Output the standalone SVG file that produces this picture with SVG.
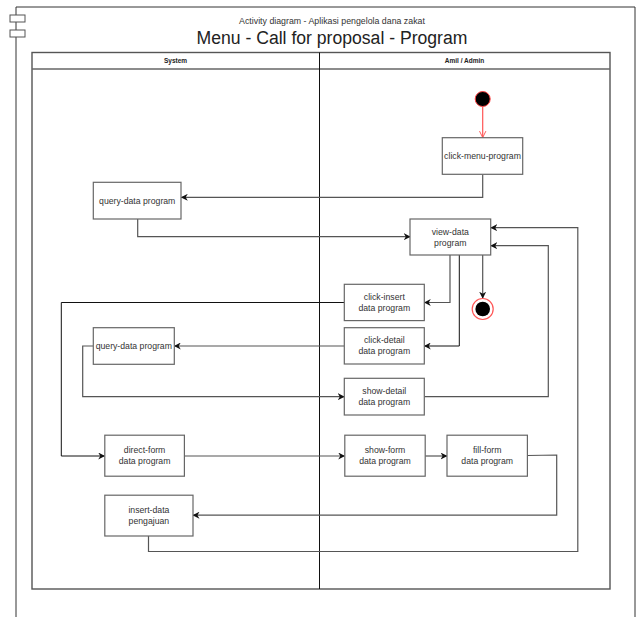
<svg xmlns="http://www.w3.org/2000/svg" width="640" height="617" viewBox="0 0 640 617">
  <style>
    .frame { fill: none; stroke: #333; stroke-width: 1; }
    .pool { fill: #fff; stroke: #555; stroke-width: 1.4; }
    .lane { fill: none; stroke: #111; stroke-width: 1; }
    .box { fill: #fff; stroke: #666; stroke-width: 1.2; }
    .lbl { font-family: "Liberation Sans", Arial, sans-serif; font-size: 8.7px; fill: #333; text-anchor: middle; }
    .hdr { font-family: "Liberation Sans", Arial, sans-serif; font-size: 6.5px; font-weight: bold; fill: #222; text-anchor: middle; }
    .edge { fill: none; stroke: #555; stroke-width: 1.2; marker-end: url(#arrow); }
    .edge.dark { stroke: #111; stroke-width: 1; }
  </style>
  <defs>
    <marker id="arrow" viewBox="0 0 10 10" refX="9" refY="5" markerWidth="7" markerHeight="7" markerUnits="userSpaceOnUse" orient="auto">
      <path d="M0,0 L10,5 L0,10 L3,5 Z" fill="#111"/>
    </marker>
    <marker id="openArrow" viewBox="0 0 10 10" refX="9" refY="5" markerWidth="8" markerHeight="8" markerUnits="userSpaceOnUse" orient="auto">
      <path d="M1,1 L9,5 L1,9" fill="none" stroke="#ff5555" stroke-width="1.2"/>
    </marker>
  </defs>

  <rect width="640" height="617" fill="#fff"/>

  <!-- outer component frame -->
  <g id="frame">
    <path class="frame" d="M16,640 L16,7 L635,7 L635,640"/>
    <rect x="10" y="15" width="15" height="7" fill="#fff" stroke="#555" stroke-width="1"/>
    <rect x="10" y="30" width="15" height="7" fill="#fff" stroke="#555" stroke-width="1"/>
  </g>

  <g id="titles">
    <text x="332" y="23.5" font-family="'Liberation Sans', Arial, sans-serif" font-size="8.8" fill="#333" text-anchor="middle">Activity diagram - Aplikasi pengelola dana zakat</text>
    <text x="332" y="44" font-family="'Liberation Sans', Arial, sans-serif" font-size="17.6" fill="#222" text-anchor="middle">Menu - Call for proposal - Program</text>
  </g>

  <!-- swimlane pool -->
  <g id="pool">
    <rect class="pool" x="32" y="52.5" width="578" height="536.5"/>
    <line x1="32" y1="69" x2="610" y2="69" stroke="#666" stroke-width="1.4"/>
    <line class="lane" x1="319.5" y1="52.5" x2="319.5" y2="589"/>
    <text class="hdr" x="175.5" y="63">System</text>
    <text class="hdr" x="464.5" y="63">Amil / Admin</text>
  </g>

  <!-- connectors -->
  <g id="connectors">
    <path d="M482.7,107 L482.7,137.5" fill="none" stroke="#ff5555" stroke-width="1.2" marker-end="url(#openArrow)"/>
    <path class="edge" d="M482.7,174.5 L482.7,197.3 L181.5,197.3"/>
    <path class="edge" d="M137.7,219 L137.7,236.7 L410,236.7"/>
    <path class="edge" d="M450,255 L450,302.5 L424.5,302.5"/>
    <path class="edge dark" d="M459.3,255 L459.3,346 L424.5,346"/>
    <path class="edge" d="M482.7,255 L482.7,298"/>
    <path class="edge dark" d="M344.3,302.5 L61.3,302.5 L61.3,456 L104.5,456"/>
    <path class="edge" d="M344.3,346 L174.5,346"/>
    <path class="edge" d="M93.3,346 L82.7,346 L82.7,396.7 L344,396.7"/>
    <path class="edge" d="M424.5,396.7 L548.3,396.7 L548.3,245.7 L491,245.7"/>
    <path class="edge" d="M184.5,456 L344.5,456"/>
    <path class="edge" d="M425.2,456 L446.8,456"/>
    <path class="edge" d="M527.4,455.5 L556.7,455 L556.7,515.2 L193.2,515.2"/>
    <path class="edge" d="M148.5,536 L148.5,551.5 L577.8,551.5 L577.8,227.7 L491,227.7"/>
  </g>

  <!-- nodes -->
  <g id="start">
    <circle cx="482.7" cy="99" r="7.5" fill="#000" stroke="#ff4444" stroke-width="1"/>
  </g>

  <g id="click-menu-program">
    <rect class="box" x="442.3" y="137.7" width="80.4" height="36.6"/>
    <text class="lbl" x="482.5" y="159">click-menu-program</text>
  </g>

  <g id="query-data-program-1">
    <rect class="box" x="93.3" y="182.3" width="87.7" height="36.7"/>
    <text class="lbl" x="137.2" y="203.7">query-data program</text>
  </g>

  <g id="view-data-program">
    <rect class="box" x="410" y="219" width="80.7" height="36"/>
    <text class="lbl" x="450.3" y="235">view-data</text>
    <text class="lbl" x="450.3" y="245.6">program</text>
  </g>

  <g id="end">
    <circle cx="482.7" cy="309" r="10.5" fill="#fff" stroke="#ff5555" stroke-width="1.2"/>
    <circle cx="482.7" cy="309" r="7.3" fill="#000"/>
  </g>

  <g id="click-insert-data-program">
    <rect class="box" x="344.3" y="284.3" width="80" height="36.3"/>
    <text class="lbl" x="384.3" y="300">click-insert</text>
    <text class="lbl" x="384.3" y="310.7">data program</text>
  </g>

  <g id="click-detail-data-program">
    <rect class="box" x="344.3" y="327.7" width="80" height="36.3"/>
    <text class="lbl" x="384.3" y="343.4">click-detail</text>
    <text class="lbl" x="384.3" y="354.1">data program</text>
  </g>

  <g id="query-data-program-2">
    <rect class="box" x="93.3" y="327.7" width="81" height="36.6"/>
    <text class="lbl" x="133.8" y="349">query-data program</text>
  </g>

  <g id="show-detail-data-program">
    <rect class="box" x="344.3" y="378.3" width="80" height="36.7"/>
    <text class="lbl" x="384.3" y="394.2">show-detail</text>
    <text class="lbl" x="384.3" y="404.9">data program</text>
  </g>

  <g id="direct-form-data-program">
    <rect class="box" x="104.8" y="435.2" width="79.6" height="41"/>
    <text class="lbl" x="144.6" y="453.2">direct-form</text>
    <text class="lbl" x="144.6" y="463.9">data program</text>
  </g>

  <g id="show-form-data-program">
    <rect class="box" x="344.8" y="435.2" width="80.4" height="41"/>
    <text class="lbl" x="385" y="453.2">show-form</text>
    <text class="lbl" x="385" y="463.9">data program</text>
  </g>

  <g id="fill-form-data-program">
    <rect class="box" x="447" y="435.2" width="80.4" height="41"/>
    <text class="lbl" x="487.2" y="453.2">fill-form</text>
    <text class="lbl" x="487.2" y="463.9">data program</text>
  </g>

  <g id="insert-data-pengajuan">
    <rect class="box" x="104.8" y="495.2" width="88.2" height="40.8"/>
    <text class="lbl" x="148.9" y="513.2">insert-data</text>
    <text class="lbl" x="148.9" y="523.9">pengajuan</text>
  </g>
</svg>
